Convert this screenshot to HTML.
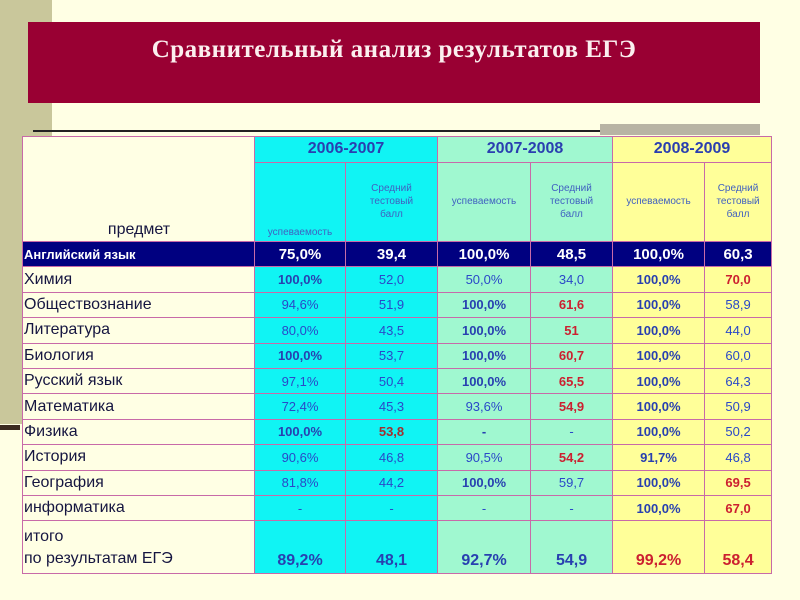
<!DOCTYPE html>
<html><head><meta charset="utf-8"><style>
body{margin:0;width:800px;height:600px;background:#FFFFE4;position:relative;overflow:hidden;font-family:"Liberation Sans",sans-serif}
.strip{position:absolute;left:0;top:0;width:52px;height:424px;background:#C9C79B}
.dash{position:absolute;left:0;top:425px;width:20px;height:5px;background:#3a2a20}
.title{position:absolute;left:28px;top:22px;width:732px;height:81px;background:#990033;color:#FBEFEF;font:bold 25px "Liberation Serif",serif;text-align:center;line-height:56px;letter-spacing:0.5px}
.line{position:absolute;left:33px;top:130px;width:727px;height:2px;background:#222}
.gray{position:absolute;left:600px;top:124px;width:160px;height:11px;background:#B8B4A4}
table{position:absolute;left:22px;top:136px;border-collapse:collapse;table-layout:fixed;width:749px}
td{border:1px solid #C86AA8;padding:0;text-align:center;font-size:13px;color:#2A48C8;height:24.4px;overflow:hidden}
td.s{text-align:left;color:#151540;font-size:16px;background:#FFFFE4;padding-left:1px}
.c{background:#10F4F4}.m{background:#A0F8D0}.y{background:#FFFF99}
.b{font-weight:bold;color:#2840B0}.r{font-weight:bold;color:#CC2030}
.yr{font-size:16px;font-weight:bold;color:#2A3EB0;height:24px}
.sub{font-size:10px;color:#4060C0;line-height:13px}
tr.en td{background:#000080;color:#fff;font-size:15px;font-weight:bold}
tr.en td.s{font-size:13px;font-weight:bold;color:#fff;background:#000080}
tr.tot td{font-size:16px;font-weight:bold;height:49px;vertical-align:bottom;padding-bottom:3px}
</style></head><body>
<div class="strip"></div>
<div class="dash"></div>
<div class="title">Сравнительный анализ результатов ЕГЭ</div>
<div class="line"></div>
<div class="gray"></div>
<table>
<colgroup><col style="width:232px"><col style="width:91px"><col style="width:92px"><col style="width:93px"><col style="width:82px"><col style="width:92px"><col style="width:67px"></colgroup>
<tr><td class="s" rowspan="2" style="height:102px;vertical-align:bottom;text-align:center;padding-bottom:2px">предмет</td>
<td class="c yr" colspan="2">2006-2007</td>
<td class="m yr" colspan="2">2007-2008</td>
<td class="y yr" colspan="2">2008-2009</td></tr>
<tr style="height:77px"><td class="c sub" style="vertical-align:bottom;padding-bottom:2px">успеваемость</td><td class="c sub">Средний<br>тестовый<br>балл</td>
<td class="m sub">успеваемость</td><td class="m sub">Средний<br>тестовый<br>балл</td>
<td class="y sub">успеваемость</td><td class="y sub">Средний<br>тестовый<br>балл</td></tr>
<tr class="en"><td class="s">Английский язык</td><td>75,0%</td><td>39,4</td><td>100,0%</td><td>48,5</td><td>100,0%</td><td>60,3</td></tr>
<tr><td class="s">Химия</td><td class="c b">100,0%</td><td class="c">52,0</td><td class="m">50,0%</td><td class="m">34,0</td><td class="y b">100,0%</td><td class="y r">70,0</td></tr>
<tr><td class="s">Обществознание</td><td class="c">94,6%</td><td class="c">51,9</td><td class="m b">100,0%</td><td class="m r">61,6</td><td class="y b">100,0%</td><td class="y">58,9</td></tr>
<tr><td class="s">Литература</td><td class="c">80,0%</td><td class="c">43,5</td><td class="m b">100,0%</td><td class="m r">51</td><td class="y b">100,0%</td><td class="y">44,0</td></tr>
<tr><td class="s">Биология</td><td class="c b">100,0%</td><td class="c">53,7</td><td class="m b">100,0%</td><td class="m r">60,7</td><td class="y b">100,0%</td><td class="y">60,0</td></tr>
<tr><td class="s">Русский язык</td><td class="c">97,1%</td><td class="c">50,4</td><td class="m b">100,0%</td><td class="m r">65,5</td><td class="y b">100,0%</td><td class="y">64,3</td></tr>
<tr><td class="s">Математика</td><td class="c">72,4%</td><td class="c">45,3</td><td class="m">93,6%</td><td class="m r">54,9</td><td class="y b">100,0%</td><td class="y">50,9</td></tr>
<tr><td class="s">Физика</td><td class="c b">100,0%</td><td class="c r" style="color:#A03030">53,8</td><td class="m b">-</td><td class="m">-</td><td class="y b">100,0%</td><td class="y">50,2</td></tr>
<tr><td class="s">История</td><td class="c">90,6%</td><td class="c">46,8</td><td class="m">90,5%</td><td class="m r">54,2</td><td class="y b">91,7%</td><td class="y">46,8</td></tr>
<tr><td class="s">География</td><td class="c">81,8%</td><td class="c">44,2</td><td class="m b">100,0%</td><td class="m">59,7</td><td class="y b">100,0%</td><td class="y r">69,5</td></tr>
<tr><td class="s">информатика</td><td class="c">-</td><td class="c">-</td><td class="m">-</td><td class="m">-</td><td class="y b">100,0%</td><td class="y r">67,0</td></tr>
<tr class="tot"><td class="s" style="font-weight:normal;line-height:22px">итого<br>по результатам ЕГЭ</td><td class="c b">89,2%</td><td class="c b">48,1</td><td class="m b">92,7%</td><td class="m b">54,9</td><td class="y r">99,2%</td><td class="y r">58,4</td></tr>
</table>
</body></html>
